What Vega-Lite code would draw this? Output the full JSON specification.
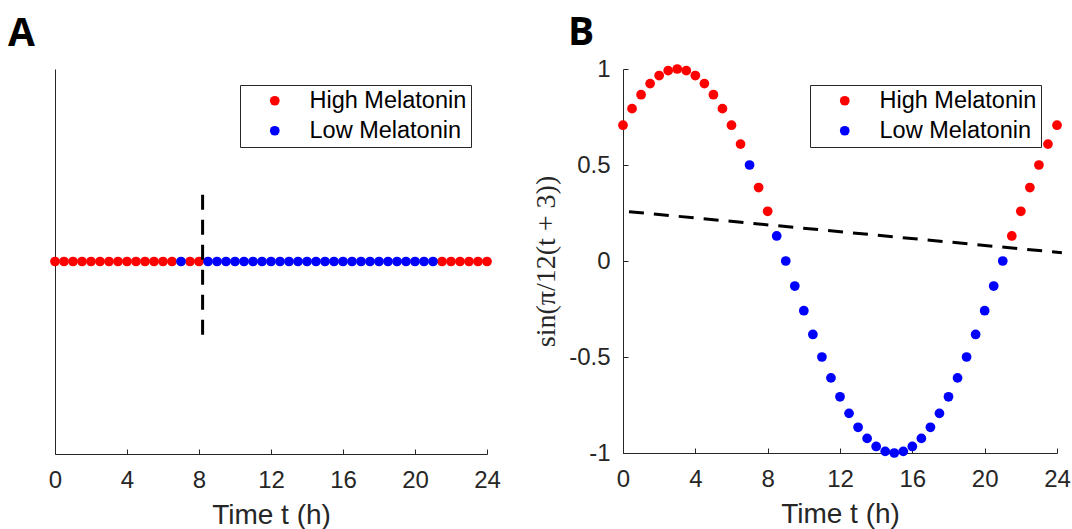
{
  "$schema": "https://vega.github.io/schema/vega-lite/v6.json",
  "background": "white",
  "padding": {"left": 8, "top": 14, "right": 5, "bottom": 0},
  "spacing": 136,
  "bounds": "flush",
  "config": {
    "view": {"stroke": null},
    "font": "Liberation Sans",
    "axis": {
      "domainColor": "#262626", "tickColor": "#262626", "labelColor": "#262626", "titleColor": "#262626",
      "labelFont": "Liberation Sans", "titleFont": "Liberation Sans", "labelFontSize": 24, "titleFontSize": 28,
      "titleFontWeight": "normal", "grid": false, "tickSize": -5, "domainWidth": 1, "tickWidth": 1,
      "labelFlush": false, "labelOverlap": false
    },
    "legend": {
      "title": null, "orient": "top-right", "offset": 16, "strokeColor": "#262626", "fillColor": "white",
      "padding": 4, "symbolType": "circle", "symbolSize": 95, "labelFontSize": 23.5, "labelFont": "Liberation Sans",
      "labelColor": "black", "symbolOffset": 19, "labelOffset": 23, "rowPadding": 5, "labelLimit": 300
    }
  },
  "datasets": {
    "pts": [
      {"t": 0, "s": 0.7071, "state": "High Melatonin"},
      {"t": 0.5, "s": 0.7934, "state": "High Melatonin"},
      {"t": 1, "s": 0.8660, "state": "High Melatonin"},
      {"t": 1.5, "s": 0.9239, "state": "High Melatonin"},
      {"t": 2, "s": 0.9659, "state": "High Melatonin"},
      {"t": 2.5, "s": 0.9914, "state": "High Melatonin"},
      {"t": 3, "s": 1, "state": "High Melatonin"},
      {"t": 3.5, "s": 0.9914, "state": "High Melatonin"},
      {"t": 4, "s": 0.9659, "state": "High Melatonin"},
      {"t": 4.5, "s": 0.9239, "state": "High Melatonin"},
      {"t": 5, "s": 0.8660, "state": "High Melatonin"},
      {"t": 5.5, "s": 0.7934, "state": "High Melatonin"},
      {"t": 6, "s": 0.7071, "state": "High Melatonin"},
      {"t": 6.5, "s": 0.6088, "state": "High Melatonin"},
      {"t": 7.5, "s": 0.3827, "state": "High Melatonin"},
      {"t": 8, "s": 0.2588, "state": "High Melatonin"},
      {"t": 21.5, "s": 0.1305, "state": "High Melatonin"},
      {"t": 22, "s": 0.2588, "state": "High Melatonin"},
      {"t": 22.5, "s": 0.3827, "state": "High Melatonin"},
      {"t": 23, "s": 0.5, "state": "High Melatonin"},
      {"t": 23.5, "s": 0.6088, "state": "High Melatonin"},
      {"t": 24, "s": 0.7071, "state": "High Melatonin"},
      {"t": 7, "s": 0.5, "state": "Low Melatonin"},
      {"t": 8.5, "s": 0.1305, "state": "Low Melatonin"},
      {"t": 9, "s": 0, "state": "Low Melatonin"},
      {"t": 9.5, "s": -0.1305, "state": "Low Melatonin"},
      {"t": 10, "s": -0.2588, "state": "Low Melatonin"},
      {"t": 10.5, "s": -0.3827, "state": "Low Melatonin"},
      {"t": 11, "s": -0.5, "state": "Low Melatonin"},
      {"t": 11.5, "s": -0.6088, "state": "Low Melatonin"},
      {"t": 12, "s": -0.7071, "state": "Low Melatonin"},
      {"t": 12.5, "s": -0.7934, "state": "Low Melatonin"},
      {"t": 13, "s": -0.8660, "state": "Low Melatonin"},
      {"t": 13.5, "s": -0.9239, "state": "Low Melatonin"},
      {"t": 14, "s": -0.9659, "state": "Low Melatonin"},
      {"t": 14.5, "s": -0.9914, "state": "Low Melatonin"},
      {"t": 15, "s": -1, "state": "Low Melatonin"},
      {"t": 15.5, "s": -0.9914, "state": "Low Melatonin"},
      {"t": 16, "s": -0.9659, "state": "Low Melatonin"},
      {"t": 16.5, "s": -0.9239, "state": "Low Melatonin"},
      {"t": 17, "s": -0.8660, "state": "Low Melatonin"},
      {"t": 17.5, "s": -0.7934, "state": "Low Melatonin"},
      {"t": 18, "s": -0.7071, "state": "Low Melatonin"},
      {"t": 18.5, "s": -0.6088, "state": "Low Melatonin"},
      {"t": 19, "s": -0.5, "state": "Low Melatonin"},
      {"t": 19.5, "s": -0.3827, "state": "Low Melatonin"},
      {"t": 20, "s": -0.2588, "state": "Low Melatonin"},
      {"t": 20.5, "s": -0.1305, "state": "Low Melatonin"},
      {"t": 21, "s": 0, "state": "Low Melatonin"}
    ],
    "vline": [{"t": 8.2, "y1": -0.38, "y2": 0.39}],
    "fitline": [{"t1": 0.33, "t2": 24.27, "y1": 0.257, "y2": 0.043}]
  },
  "resolve": {"scale": {"color": "independent"}, "legend": {"color": "independent"}},
  "hconcat": [
    {
      "width": 432,
      "height": 385,
      "title": {"text": "A", "anchor": "start", "frame": "group", "dx": -47, "dy": 39, "fontSize": 39, "font": "Open Sans", "fontWeight": "bold", "color": "black", "baseline": "alphabetic", "offset": 23},
      "layer": [
        {
          "data": {"name": "pts"},
          "mark": {"type": "point", "filled": true, "opacity": 1, "size": 95, "shape": "circle"},
          "encoding": {
            "x": {"field": "t", "type": "quantitative", "scale": {"domain": [0, 24], "nice": false},
                  "axis": {"values": [0, 4, 8, 12, 16, 20, 24], "title": "Time t (h)", "labelPadding": 19, "titlePadding": 9}},
            "y": {"datum": 0, "type": "quantitative", "scale": {"domain": [-1, 1], "nice": false},
                  "axis": {"ticks": false, "labels": false, "title": null}},
            "color": {"field": "state", "type": "nominal",
                      "scale": {"domain": ["High Melatonin", "Low Melatonin"], "range": ["#ff0000", "#0000ff"]},
                      "legend": {}}
          }
        },
        {
          "data": {"name": "vline"},
          "mark": {"type": "rule", "color": "black", "strokeWidth": 3, "strokeDash": [15, 10]},
          "encoding": {
            "x": {"field": "t", "type": "quantitative"},
            "y": {"field": "y1", "type": "quantitative"},
            "y2": {"field": "y2"}
          }
        }
      ]
    },
    {
      "width": 434,
      "height": 384,
      "title": {"text": "B", "anchor": "start", "frame": "group", "dx": -55, "dy": 50, "fontSize": 39, "font": "Open Sans", "fontWeight": "bold", "color": "black", "baseline": "alphabetic", "offset": 23},
      "layer": [
        {
          "data": {"name": "pts"},
          "mark": {"type": "point", "filled": true, "opacity": 1, "size": 95, "shape": "circle"},
          "encoding": {
            "x": {"field": "t", "type": "quantitative", "scale": {"domain": [0, 24], "nice": false},
                  "axis": {"values": [0, 4, 8, 12, 16, 20, 24], "title": "Time t (h)", "labelPadding": 19, "titlePadding": 9}},
            "y": {"field": "s", "type": "quantitative", "scale": {"domain": [-1, 1], "nice": false},
                  "axis": {"values": [-1, -0.5, 0, 0.5, 1], "labelExpr": "'' + datum.value", "title": "sin(π/12(t + 3))",
                           "titleFont": "Liberation Serif", "titleFontSize": 28, "labelPadding": 18, "titlePadding": 8}},
            "color": {"field": "state", "type": "nominal",
                      "scale": {"domain": ["High Melatonin", "Low Melatonin"], "range": ["#ff0000", "#0000ff"]},
                      "legend": {}}
          }
        },
        {
          "data": {"name": "fitline"},
          "mark": {"type": "rule", "color": "black", "strokeWidth": 3, "strokeDash": [15, 10]},
          "encoding": {
            "x": {"field": "t1", "type": "quantitative"},
            "x2": {"field": "t2"},
            "y": {"field": "y1", "type": "quantitative"},
            "y2": {"field": "y2"}
          }
        }
      ]
    }
  ]
}
